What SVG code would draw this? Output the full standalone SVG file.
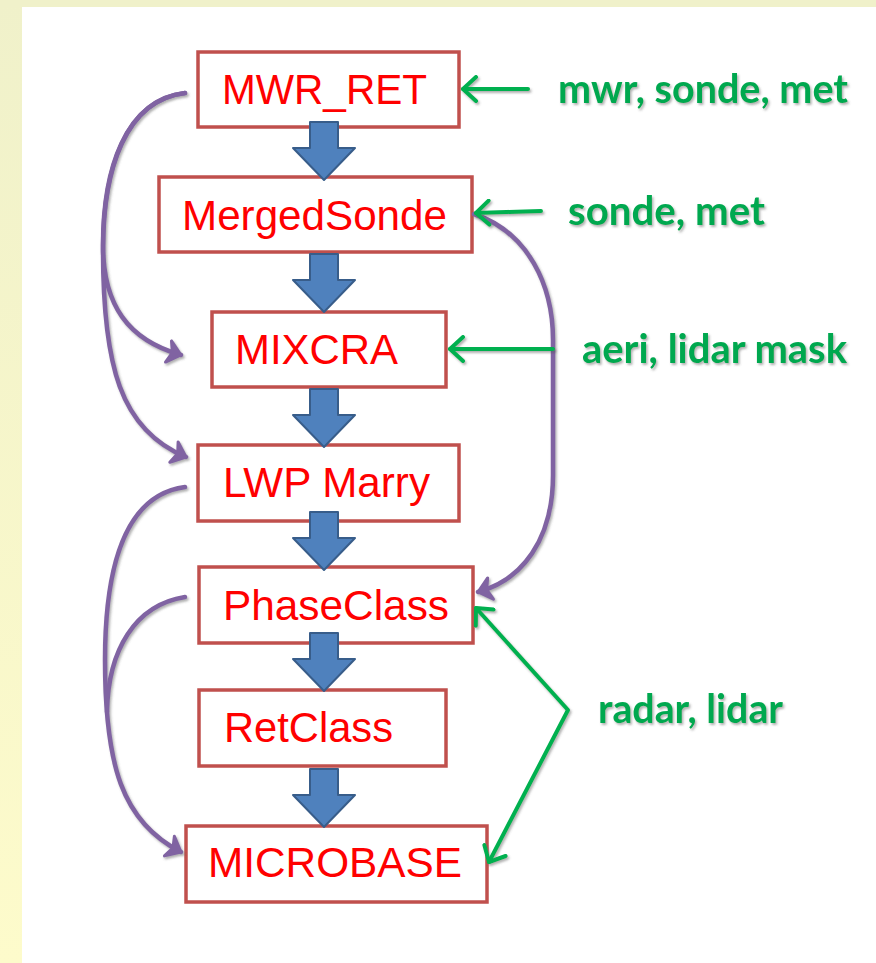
<svg xmlns="http://www.w3.org/2000/svg" width="876" height="963" viewBox="0 0 876 963">
  <defs>
    <linearGradient id="side" x1="0" y1="0" x2="0" y2="1">
      <stop offset="0" stop-color="#F0F1CA"/>
      <stop offset="1" stop-color="#FDFBCB"/>
    </linearGradient>
    <filter id="sh" x="-20%" y="-20%" width="140%" height="140%">
      <feDropShadow dx="1.5" dy="2" stdDeviation="1.2" flood-color="#555" flood-opacity="0.45"/>
    </filter>
    <marker id="ga" viewBox="-16 -14 20 28" markerWidth="20" markerHeight="28" refX="0" refY="0" orient="auto-start-reverse" markerUnits="userSpaceOnUse">
      <path d="M -13 -12 L 0 0 L -13 12" fill="none" stroke="#00B050" stroke-width="4" stroke-linecap="round" stroke-linejoin="round"/>
    </marker>
    <marker id="pa" viewBox="-16 -14 20 28" markerWidth="20" markerHeight="28" refX="0" refY="0" orient="auto" markerUnits="userSpaceOnUse">
      <path d="M -13 -11 L 0 0 L -13 11 L -9 0 Z" fill="#8064A2" stroke="#8064A2" stroke-width="3" stroke-linecap="round" stroke-linejoin="round"/>
    </marker>
  </defs>
  <style>
    .box rect { fill: #FFFFFF; stroke: #C0504D; stroke-width: 3.5; }
    .box text { font-family: "Liberation Sans", Arial, sans-serif; font-size: 42px; fill: #FF0000; }
    .lbl { font-family: Lato, "Open Sans", sans-serif; font-weight: 700; font-size: 40px; fill: #00A850; }
    .blk { fill: #4F81BD; stroke: #385D8A; stroke-width: 2; stroke-linejoin: round; }
    .g { fill: none; stroke: #00B050; stroke-width: 4; stroke-linecap: round; stroke-linejoin: round; }
    .p { fill: none; stroke: #8064A2; stroke-width: 4.5; stroke-linecap: round; }
  </style>

  <rect x="0" y="0" width="876" height="963" fill="#FFFFFF"/>
  <rect x="0" y="0" width="22" height="963" fill="url(#side)"/>
  <rect x="0" y="0" width="876" height="7" fill="#F0F1CA"/>

  <g id="nodes">
    <g id="n-mwr" class="box"><rect x="198" y="52" width="261" height="75"/><text x="222" y="104" textLength="205" lengthAdjust="spacingAndGlyphs">MWR_RET</text></g>
    <g id="n-merged" class="box"><rect x="159" y="177" width="313" height="75"/><text x="182" y="230" textLength="265" lengthAdjust="spacingAndGlyphs">MergedSonde</text></g>
    <g id="n-mixcra" class="box"><rect x="212" y="312" width="234" height="75"/><text x="235" y="364" textLength="163" lengthAdjust="spacingAndGlyphs">MIXCRA</text></g>
    <g id="n-lwp" class="box"><rect x="198" y="445" width="261" height="76"/><text x="223" y="497" textLength="207" lengthAdjust="spacingAndGlyphs">LWP Marry</text></g>
    <g id="n-phase" class="box"><rect x="199" y="567" width="274" height="76"/><text x="223" y="620" textLength="226" lengthAdjust="spacingAndGlyphs">PhaseClass</text></g>
    <g id="n-ret" class="box"><rect x="199" y="690" width="247" height="76"/><text x="224" y="742" textLength="169" lengthAdjust="spacingAndGlyphs">RetClass</text></g>
    <g id="n-micro" class="box"><rect x="186" y="826" width="301" height="76"/><text x="208" y="877" textLength="254" lengthAdjust="spacingAndGlyphs">MICROBASE</text></g>
  </g>

  <g id="connectors">
    <g id="flow">
      <path class="blk" d="M310 122 H338 V148 H355 L324 180 L293 148 H310 Z"/>
      <path class="blk" d="M310 254 H338 V280 H355 L324 312 L293 280 H310 Z"/>
      <path class="blk" d="M310 389 H338 V415 H355 L324 447 L293 415 H310 Z"/>
      <path class="blk" d="M310 512 H338 V538 H355 L324 570 L293 538 H310 Z"/>
      <path class="blk" d="M310 633 H338 V659 H355 L324 691 L293 659 H310 Z"/>
      <path class="blk" d="M310 769 H338 V795 H355 L324 827 L293 795 H310 Z"/>
    </g>
    <g id="purple" filter="url(#sh)">
      <path class="p" d="M185 93 C125 100 103 170 103 245 C103 305 128 340 181 355" marker-end="url(#pa)"/>
      <path class="p" d="M185 93 C125 100 103 170 103 250 C103 365 120 430 186 457" marker-end="url(#pa)"/>
      <path class="p" d="M185 487 C125 495 105 565 105 660 C105 765 122 822 181 852" marker-end="url(#pa)"/>
      <path class="p" d="M185 597 C135 605 108 650 107 712"/>
      <path class="p" d="M474 214 C528 232 553 285 553 340 L553 475 C553 540 522 580 478 592" marker-end="url(#pa)"/>
    </g>
    <g id="green" filter="url(#sh)">
      <path class="g" d="M528 89 L463 89" marker-end="url(#ga)"/>
      <path class="g" d="M541 211 L476 213" marker-end="url(#ga)"/>
      <path class="g" d="M553 349 L450 349" marker-end="url(#ga)"/>
      <path class="g" d="M476 608 L568 710 L489 862" marker-start="url(#ga)" marker-end="url(#ga)"/>
    </g>
  </g>

  <g id="labels" filter="url(#sh)">
    <text class="lbl" x="558" y="103" textLength="290" lengthAdjust="spacingAndGlyphs">mwr, sonde, met</text>
    <text class="lbl" x="568" y="225" textLength="197" lengthAdjust="spacingAndGlyphs">sonde, met</text>
    <text class="lbl" x="582" y="363" textLength="265" lengthAdjust="spacingAndGlyphs">aeri, lidar mask</text>
    <text class="lbl" x="598" y="723" textLength="185" lengthAdjust="spacingAndGlyphs">radar, lidar</text>
  </g>
</svg>
